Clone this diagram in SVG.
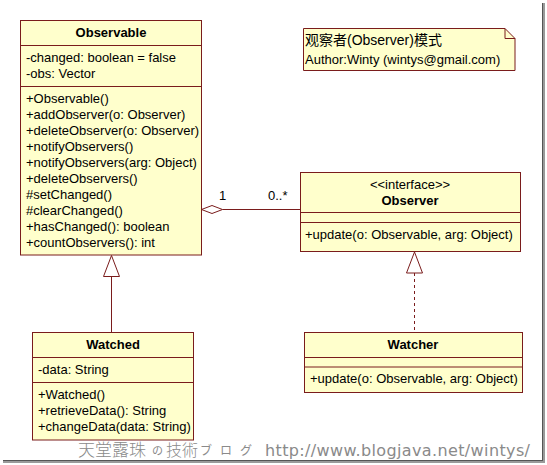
<svg xmlns="http://www.w3.org/2000/svg" width="547" height="465" viewBox="0 0 547 465">
<defs>
<style>
.box{fill:#FFFFCC;stroke:#7a1c1c;stroke-width:1}
.div{stroke:#7a1c1c;stroke-width:1;fill:none}
.t{font-family:"Liberation Sans",Arial,sans-serif;font-size:13px;fill:#000}
.b{font-weight:bold;text-anchor:middle}
.c{text-anchor:middle}
.ln{stroke:#7a1c1c;stroke-width:1;fill:none}
.hd{stroke:#7a1c1c;stroke-width:1;fill:#fff}
.ft{font-family:"DejaVu Sans",Verdana,"Noto Sans CJK JP",sans-serif;fill:#8a8a8a}
</style>
</defs>
<rect width="547" height="465" fill="#fff"/>
<g id="shadow">
<rect x="542" y="3" width="3" height="460" fill="#9a9a9a"/>
<rect x="3" y="460" width="542" height="3" fill="#9a9a9a"/>
<rect x="542" y="3" width="1" height="458" fill="#555"/>
<rect x="3" y="460" width="540" height="1" fill="#555"/>
</g>
<g id="connectors">
<path class="ln" d="M222.5 209.5 H300.5"/>
<path class="hd" d="M201.5 209.5 L212 205.5 L222.5 209.5 L212 213.5 Z"/>
<path class="ln" d="M111.5 276.5 V332.5"/>
<path class="hd" d="M111.5 255.5 L103.5 276.5 L119.5 276.5 Z"/>
<path class="ln" d="M414.5 273 V332.5" stroke-dasharray="3,3"/>
<path class="hd" d="M414.5 252 L406.5 273 L422.5 273 Z"/>
<text class="t" x="219" y="200">1</text>
<text class="t" x="268" y="200">0..*</text>
</g>
<g id="observable">
<rect class="box" x="20.5" y="20.5" width="181" height="234.5"/>
<path class="div" d="M20.5 45.5 H201.5 M20.5 86.5 H201.5"/>
<text class="t b" x="111" y="36.5">Observable</text>
<text class="t" x="26" y="61.5">-changed: boolean = false</text>
<text class="t" x="26" y="77.5">-obs: Vector</text>
<text class="t" x="26" y="103">+Observable()</text>
<text class="t" x="26" y="119">+addObserver(o: Observer)</text>
<text class="t" x="26" y="135">+deleteObserver(o: Observer)</text>
<text class="t" x="26" y="151">+notifyObservers()</text>
<text class="t" x="26" y="167">+notifyObservers(arg: Object)</text>
<text class="t" x="26" y="183">+deleteObservers()</text>
<text class="t" x="26" y="199">#setChanged()</text>
<text class="t" x="26" y="215">#clearChanged()</text>
<text class="t" x="26" y="231">+hasChanged(): boolean</text>
<text class="t" x="26" y="247">+countObservers(): int</text>
</g>
<g id="note">
<path class="box" d="M303.5 28.5 H505 L515 38.5 V70.5 H303.5 Z"/>
<path class="div" d="M505 28.5 V38.5 H515"/>
<text class="t" x="305" y="45" style="font-size:14px;font-family:'Liberation Sans','Noto Sans CJK SC',sans-serif">观察者(Observer)模式</text>
<text class="t" x="305" y="63.5">Author:Winty (wintys@gmail.com)</text>
</g>
<g id="observer">
<rect class="box" x="300.5" y="172.5" width="220" height="79"/>
<path class="div" d="M300.5 212.5 H520.5 M300.5 222.5 H520.5"/>
<text class="t c" x="410" y="188.5">&lt;&lt;interface&gt;&gt;</text>
<text class="t b" x="410" y="205">Observer</text>
<text class="t" x="305" y="239">+update(o: Observable, arg: Object)</text>
</g>
<g id="watched">
<rect class="box" x="32.5" y="332.5" width="161" height="107.5"/>
<path class="div" d="M32.5 357.5 H193.5 M32.5 382.5 H193.5"/>
<text class="t b" x="113" y="348.5">Watched</text>
<text class="t" x="38" y="373.5">-data: String</text>
<text class="t" x="38" y="399">+Watched()</text>
<text class="t" x="38" y="415">+retrieveData(): String</text>
<text class="t" x="38" y="431">+changeData(data: String)</text>
</g>
<g id="watcher">
<rect class="box" x="304.5" y="332.5" width="218" height="60"/>
<path class="div" d="M304.5 357.5 H522.5 M304.5 367 H522.5"/>
<text class="t b" x="413" y="348.5">Watcher</text>
<text class="t" x="310" y="382.5">+update(o: Observable, arg: Object)</text>
</g>
<g id="footer">
<text class="ft" x="78" y="456" style="font-size:17px;font-family:'Noto Sans CJK JP',sans-serif;font-weight:300">天堂露珠</text>
<text class="ft" x="152" y="455" style="font-size:11px;font-family:'Noto Sans CJK JP',sans-serif">の</text>
<text class="ft" x="166" y="456" style="font-size:16px;font-family:'Noto Sans CJK JP',sans-serif;font-weight:300">技術</text>
<text class="ft" x="200" y="455" style="font-size:12px;font-family:'Noto Sans CJK JP',sans-serif;letter-spacing:8px">ブログ</text>
<text class="ft" x="265" y="456" style="font-size:16px" textLength="265">http://www.blogjava.net/wintys/</text>
</g>
</svg>
